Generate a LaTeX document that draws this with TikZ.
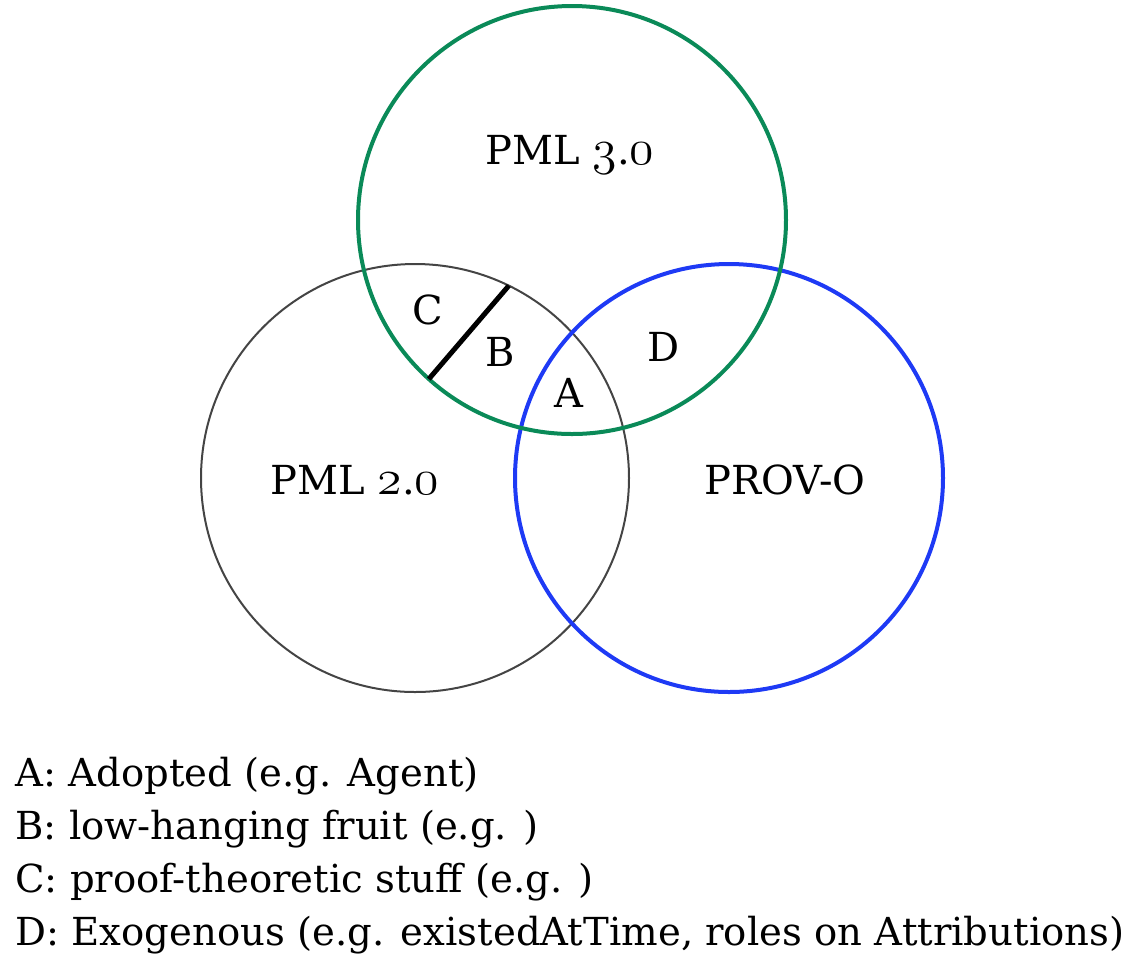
\documentclass[tikz,border=0pt]{standalone}
\usepackage{fontspec}
\setmainfont{DejaVu Serif}
\usepackage{tikz}
\usetikzlibrary{positioning}
\definecolor{pmlgreen}{RGB}{10,138,88}
\definecolor{provblue}{RGB}{30,58,245}
\definecolor{pmlgray}{RGB}{68,68,68}
\newcommand\osdigits[1]{{\usefont{OML}{cmm}{m}{it}\fontsize{24}{28}\selectfont#1}}

\begin{document}
\begin{tikzpicture}[x=0.5pt, y=-0.5pt,
  venn/.style={circle, minimum size=214pt, inner sep=0pt, outer sep=0pt},
  lbl/.style={font=\fontsize{20}{24}\selectfont, inner sep=0pt},
  key/.style={font=\fontsize{19.3}{23}\selectfont, anchor=base west, inner sep=0pt},
  divider/.style={line width=2.5pt}
]
  \useasboundingbox (0,0) rectangle (1141,955);

  \node[venn, draw=pmlgray, line width=1pt] (pml2) at (415,478) {};
  \node[venn, draw=provblue, line width=2pt] (prov) at (729,478) {};
  \node[venn, draw=pmlgreen, line width=2pt] (pml3) at (572,220) {};

  \draw[divider] (pml3.228.6) -- (pml2.64.5);

  \node[lbl] (pml3txt) at (570,155) {PML \osdigits{3}.\osdigits{0}};
  \node[lbl] (pml2txt) at (355,480) {PML \osdigits{2}.\osdigits{0}};
  \node[lbl] (provtxt) at (785,480) {PROV-O};
  \node[lbl] (regC) at (428,310) {C};
  \node[lbl] (regB) at (500,352) {B};
  \node[lbl] (regA) at (569,393) {A};
  \node[lbl] (regD) at (664,347) {D};

  \node[key] (keyA) at (15,786) {A: Adopted (e.g. Agent)};
  \node[key] (keyB) at (15,839) {B: low-hanging fruit (e.g. )};
  \node[key] (keyC) at (15,892) {C: proof-theoretic stuff (e.g. )};
  \node[key] (keyD) at (15,945) {D: Exogenous (e.g. existedAtTime, roles on Attributions)};
\end{tikzpicture}
\end{document}
